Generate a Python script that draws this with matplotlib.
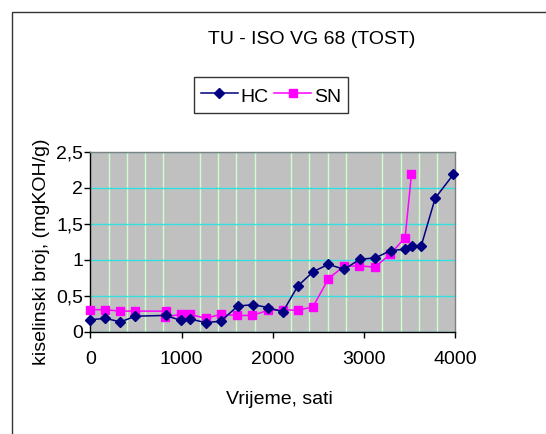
import matplotlib
matplotlib.use("Agg")
import matplotlib.pyplot as plt
from matplotlib.ticker import MultipleLocator, FuncFormatter
from matplotlib.patches import Rectangle

plt.rcParams['font.family'] = ['Liberation Sans', 'DejaVu Sans']

# HC series (hours, acid number)
hc_x = [0, 165, 330, 495, 825, 995, 1095, 1265, 1430, 1615, 1785, 1945,
        2110, 2275, 2445, 2610, 2780, 2955, 3125, 3290, 3450, 3530, 3625,
        3780, 3980]
hc_y = [0.17, 0.19, 0.14, 0.22, 0.23, 0.16, 0.18, 0.13, 0.15, 0.36, 0.38, 0.34,
        0.28, 0.64, 0.84, 0.94, 0.87, 1.01, 1.03, 1.13, 1.15, 1.20, 1.19,
        1.86, 2.19]

# SN series
sn_x = [0, 160, 325, 495, 835, 815, 990, 1095, 1265, 1430, 1610, 1775,
        1945, 2110, 2275, 2440, 2610, 2775, 2950, 3120, 3285, 3450, 3520]
sn_y = [0.31, 0.31, 0.29, 0.29, 0.29, 0.21, 0.245, 0.245, 0.19, 0.245, 0.23, 0.23,
        0.30, 0.31, 0.30, 0.35, 0.74, 0.91, 0.92, 0.90, 1.08, 1.31, 2.20]

title = "TU - ISO VG 68 (TOST)"
x_label = "Vrijeme, sati"
y_label = "kiselinski broj, (mgKOH/g)"

fig = plt.figure(figsize=(5.46, 4.34), dpi=100)
fig.patch.set_facecolor('white')

# outer chart frame (only left/top visible in the crop)
fig.patches.append(Rectangle((11.5 / 546, -0.1), 1.2, 1.1 - 12.3 / 434,
                             transform=fig.transFigure, fill=False,
                             edgecolor='#333333', linewidth=1.0))

ax = fig.add_axes([90.3 / 546, 1 - 332 / 434, (455.3 - 90.3) / 546, (332 - 152) / 434])
ax.set_facecolor('#c0c0c0')

ax.plot(hc_x, hc_y, color='#000080', linewidth=1.1, marker='D', markersize=5.3,
        label='HC', clip_on=False, zorder=4)
ax.plot(sn_x, sn_y, color='#ff00ff', linewidth=1.1, marker='s', markersize=5.8,
        label='SN', clip_on=False, zorder=3)

ax.set_xlim(0, 4000)
ax.set_ylim(0, 2.5)
ax.xaxis.set_major_locator(MultipleLocator(1000))
ax.xaxis.set_minor_locator(MultipleLocator(200))
ax.yaxis.set_major_locator(MultipleLocator(0.5))
ax.yaxis.set_major_formatter(FuncFormatter(lambda v, p: ('%g' % v).replace('.', ',')))

ax.grid(True, which='minor', axis='x', color='#ccffcc', linewidth=1.0)
ax.grid(True, which='major', axis='y', color='#33e0e0', linewidth=1.0)
ax.set_axisbelow(True)

ax.tick_params(axis='both', which='major', direction='out', length=4, width=1,
               labelsize=14, color='black')
ax.tick_params(axis='x', pad=10)
ax.tick_params(axis='y', pad=1)
ax.tick_params(axis='both', which='minor', length=0)

for s in ['top', 'right']:
    ax.spines[s].set_color('#808080')
    ax.spines[s].set_linewidth(1.0)
for s in ['left', 'bottom']:
    ax.spines[s].set_color('black')
    ax.spines[s].set_linewidth(1.0)

fig.text(0.5714, 1 - 39.3 / 434, title, ha='center', va='center', fontsize=14)
fig.text(0.512, 1 - 399 / 434, x_label, ha='center', va='center', fontsize=14)
fig.text(41.1 / 546, 1 - 251.7 / 434, y_label, ha='center', va='center',
         rotation=90, fontsize=14)

leg = fig.legend(loc='center', bbox_to_anchor=(271 / 546, 1 - 95.2 / 434), ncol=2,
                 fontsize=14, frameon=True, fancybox=False, handlelength=1.9,
                 handleheight=1.35, handletextpad=0.15, columnspacing=0.3,
                 borderpad=0.35, borderaxespad=0)
leg.get_frame().set_edgecolor('black')
leg.get_frame().set_linewidth(1.0)

fig.savefig("out.png", dpi=100)
